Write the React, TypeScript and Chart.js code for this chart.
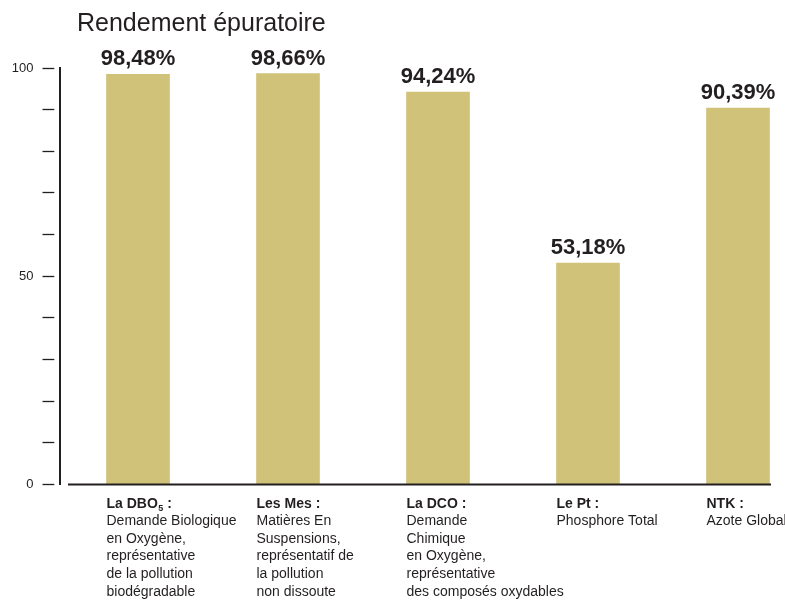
import React, { useEffect, useRef } from 'react';
import { Chart, registerables } from 'chart.js';

Chart.register(...registerables);

const TITLE = 'Rendement épuratoire';
const VALUES = [98.48, 98.66, 94.24, 53.18, 90.39];
const HEADINGS = ['La DBO₅ :', 'Les Mes :', 'La DCO :', 'Le Pt :', 'NTK :'];
const DESCRIPTIONS = [
  ['Demande Biologique', 'en Oxygène,', 'représentative', 'de la pollution', 'biodégradable'],
  ['Matières En', 'Suspensions,', 'représentatif de', 'la pollution', 'non dissoute'],
  ['Demande', 'Chimique', 'en Oxygène,', 'représentative', 'des composés oxydables'],
  ['Phosphore Total'],
  ['Azote Global'],
];
const Y_TICK_LABELS = [0, 50, 100];

const FONT = '"Liberation Sans", Arial, Helvetica, sans-serif';
const INK = '#231f20';
const BAR = '#D1C27A';
const SUBS = '₀₁₂₃₄₅₆₇₈₉';

function drawHeading(ctx: CanvasRenderingContext2D, text: string, x: number, y: number) {
  let cx = x;
  let buf = '';
  const flush = () => {
    if (!buf) return;
    ctx.font = `bold 14px ${FONT}`;
    ctx.fillText(buf, cx, y);
    cx += ctx.measureText(buf).width;
    buf = '';
  };
  for (const ch of text) {
    const idx = SUBS.indexOf(ch);
    if (idx >= 0) {
      flush();
      ctx.font = `bold 9px ${FONT}`;
      const d = String(idx);
      ctx.fillText(d, cx + 0.5, y + 3);
      cx += ctx.measureText(d).width + 0.5;
    } else {
      buf += ch;
    }
  }
  flush();
}

const decorPlugin = {
  id: 'decor',
  afterDatasetsDraw(chart: any) {
    const { ctx, chartArea, scales } = chart;
    const y = scales.y;
    const meta = chart.getDatasetMeta(0);
    ctx.save();
    const y0 = y.getPixelForValue(0);
    ctx.strokeStyle = INK;
    ctx.lineWidth = 2;
    ctx.beginPath();
    ctx.moveTo(chartArea.left + 8, y0);
    ctx.lineTo(chartArea.right, y0);
    ctx.stroke();

    ctx.fillStyle = INK;
    ctx.textBaseline = 'alphabetic';
    ctx.textAlign = 'left';
    ctx.font = `25px ${FONT}`;
    ctx.fillText(TITLE, chartArea.left + 17, chartArea.top - 37);

    ctx.textAlign = 'center';
    ctx.font = `bold 22px ${FONT}`;
    meta.data.forEach((bar: any, i: number) => {
      ctx.fillText(VALUES[i].toFixed(2).replace('.', ',') + '%', bar.x, bar.y - 9);
    });

    ctx.textAlign = 'left';
    meta.data.forEach((bar: any, i: number) => {
      const left = bar.x - bar.width / 2;
      const base = y0 + 23;
      drawHeading(ctx, HEADINGS[i], left, base);
      ctx.font = `14px ${FONT}`;
      DESCRIPTIONS[i].forEach((line, k) => {
        ctx.fillText(line, left, base + 17.6 * (k + 1));
      });
    });
    ctx.restore();
  },
};

export default function App() {
  const ref = useRef<HTMLCanvasElement>(null);
  useEffect(() => {
    if (!ref.current) return;
    const chart = new Chart(ref.current, {
      type: 'bar',
      data: {
        datasets: [
          {
            data: VALUES.map((v, i) => ({ x: i, y: v })),
            backgroundColor: BAR,
            borderWidth: 0,
            barThickness: 63,
          },
        ],
      },
      options: {
        animation: false,
        responsive: false,
        devicePixelRatio: 1,
        layout: { padding: { left: 0, right: 14, top: 68, bottom: 119.5 } },
        plugins: { legend: { display: false }, tooltip: { enabled: false }, title: { display: false } },
        scales: {
          x: { type: 'linear', display: false, offset: false, min: -0.52, max: 4.22 },
          y: {
            min: 0,
            max: 100,
            afterFit: (s: any) => {
              s.width = 60;
            },
            ticks: {
              stepSize: 10,
              autoSkip: false,
              padding: 9,
              color: INK,
              font: { family: FONT, size: 13 },
              callback: (v: any) => (Y_TICK_LABELS.includes(Number(v)) ? String(v) : ''),
            },
            grid: {
              drawOnChartArea: false,
              drawTicks: true,
              tickLength: 17.5,
              tickColor: INK,
              tickWidth: 1.3,
              tickBorderDash: [11.8, 20],
            },
            border: { display: true, color: INK, width: 2 },
          },
        },
      },
      plugins: [decorPlugin],
    });
    return () => chart.destroy();
  }, []);
  return (
    <div style={{ position: 'fixed', left: 0, top: 0, width: 785, height: 604, background: '#fff' }}>
      <canvas ref={ref} width={785} height={604} style={{ display: 'block' }} />
    </div>
  );
}
